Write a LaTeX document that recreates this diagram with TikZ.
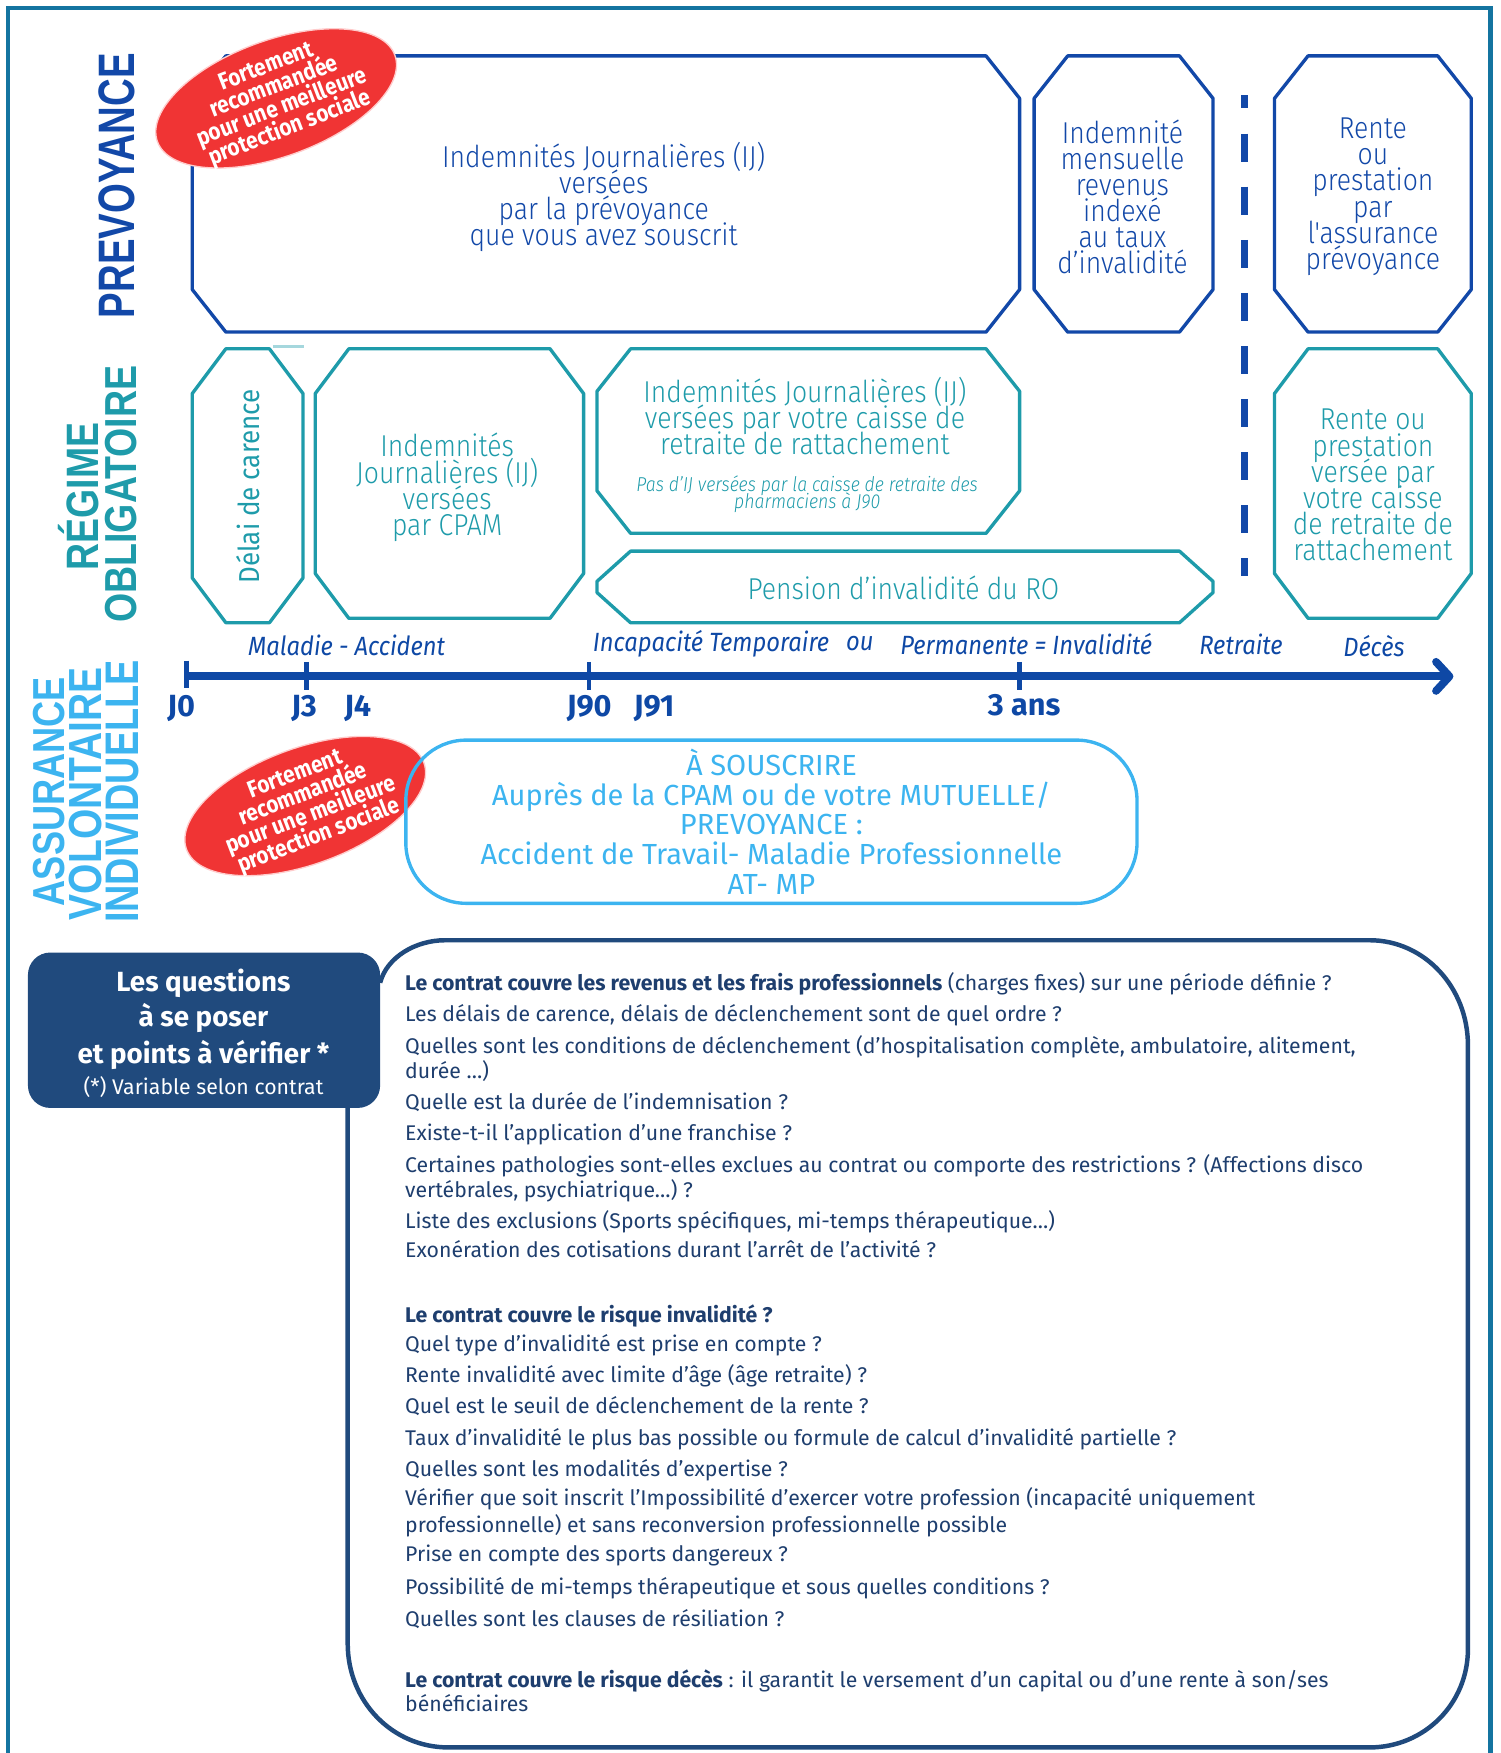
\documentclass[tikz,border=0pt]{standalone}
\usepackage{fontspec}
\setmainfont{Fira Sans}
\newfontfamily\condf[FakeStretch=0.88, UprightFont=* Light, ItalicFont=* Light Italic]{Fira Sans}
\newfontfamily\redf[FakeStretch=0.88]{Fira Sans}
\newfontfamily\semif[FakeStretch=0.9]{Fira Sans}
\newfontfamily\heavyf{Liberation Sans}
\usetikzlibrary{shapes.geometric,arrows.meta}
\definecolor{frameC}{RGB}{20,116,160}
\definecolor{prevC}{RGB}{18,72,168}
\definecolor{roC}{RGB}{30,155,170}
\definecolor{atC}{RGB}{60,180,240}
\definecolor{redC}{RGB}{240,52,52}
\definecolor{navyC}{RGB}{32,74,125}
\definecolor{qC}{RGB}{30,62,110}
\definecolor{lineC}{RGB}{14,72,165}
\newcommand\octa[7]{%
 \draw[#1] ({#2+#6},#3) -- ({#4-#6},#3) -- (#4,{#3+#7}) -- (#4,{#5-#7}) -- ({#4-#6},#5) -- ({#2+#6},#5) -- (#2,{#5-#7}) -- (#2,{#3+#7}) -- cycle;}
\tikzset{
 prevbox/.style={draw=prevC, line width=1.5pt, line join=round},
 robox/.style={draw=roC, line width=1.5pt, line join=round},
 prevtxt/.style={text=prevC, align=center, inner sep=0, font={\condf\fontsize{13.5}{11.7}\selectfont\lineskiplimit=-100pt}},
 rotxt/.style={text=roC, align=center, inner sep=0, font={\condf\fontsize{13.5}{11.7}\selectfont\lineskiplimit=-100pt}},
 heavy/.style={rotate=90, anchor=base, inner sep=0},
 redell/.style={ellipse, fill=redC, draw=red!20, line width=0.6pt, minimum width=113pt, minimum height=52pt, rotate=20, inner sep=0},
 redtxt/.style={rotate=21, text=white, align=center, inner sep=0, font={\redf\bfseries\fontsize{10.6}{9.8}\selectfont\lineskiplimit=-100pt}},
 jlab/.style={text=lineC, inner sep=0, font=\bfseries\fontsize{13.7}{15}\selectfont},
 itlab/.style={text=lineC, inner sep=0, font=\semif\itshape\fontsize{11.8}{13}\selectfont},
 tick/.style={draw=lineC, line width=2pt},
 qline/.style={anchor=base west, inner sep=0, text=qC, font=\fontsize{9.5}{11}\selectfont},
 qhead/.style={text=white, inner sep=0, anchor=base, font=\bfseries\fontsize{12.4}{14}\selectfont},
}
\begin{document}
\begin{tikzpicture}[x=0.5pt,y=-0.5pt]
\useasboundingbox (0,0) rectangle (1342,1568);
% frame
\draw[frameC, line width=2pt] (7,1600) -- (7,7) -- (1333,7) -- (1333,1600);

% side labels
\node[heavy, text=prevC] (lprev) at (120,166) {\heavyf\bfseries\resizebox{118.5pt}{16pt}{PREVOYANCE}};
\node[heavy, text=roC] (lregime) at (88,444) {\heavyf\bfseries\resizebox{66pt}{18pt}{RÉGIME}};
\node[heavy, text=roC] (loblig) at (122,442) {\heavyf\bfseries\resizebox{115pt}{14pt}{OBLIGATOIRE}};
\node[heavy, text=atC] (lassur) at (58,708) {\heavyf\bfseries\resizebox{102.5pt}{14pt}{ASSURANCE}};
\node[heavy, text=atC] (lvolon) at (91,710) {\heavyf\bfseries\resizebox{113pt}{14.5pt}{VOLONTAIRE}};
\node[heavy, text=atC] (lindiv) at (124,708) {\heavyf\bfseries\resizebox{117.5pt}{14.5pt}{INDIVIDUELLE}};

% prevoyance boxes
\octa{prevbox}{172}{50}{912}{297}{30}{38}
\octa{prevbox}{925}{50}{1085}{297}{30}{38}
\octa{prevbox}{1140}{50}{1316}{297}{30}{38}
\node[prevtxt] (ijprev) at (540,176) {Indemnités Journalières (IJ)\\versées\\par la prévoyance\\que vous avez souscrit};
\node[prevtxt] (mens) at (1004,176) {Indemnité\\mensuelle\\revenus\\indexé\\au taux\\d’invalidité};
\node[prevtxt] (renteprev) at (1228,176) {Rente\\ou\\prestation\\par\\l'assurance\\prévoyance};

% dashed retirement line
\draw[prevC, line width=3pt, dash pattern=on 12.5pt off 11.25pt, dash phase=6.5pt] (1113,85) -- (1113,515);

% regime obligatoire boxes
\octa{robox}{172}{312}{271}{557}{30}{40}
\draw[roC!40, line width=1pt] (244,310) -- (272,310);
\octa{robox}{282}{312}{522}{553}{30}{40}
\octa{robox}{534}{312}{912}{477}{30}{38}
\octa{robox}{534}{493}{1085}{557}{30}{27}
\octa{robox}{1140}{312}{1316}{553}{30}{40}
\node[rotate=90, text=roC, inner sep=0, font=\semif\fontsize{12.9}{14}\selectfont] (delai) at (222,435) {Délai de carence};
\node[rotxt] (ijcpam) at (400,436) {Indemnités\\Journalières (IJ)\\versées\\par CPAM};
\node[rotxt] (ijcaisse) at (720,372) {Indemnités Journalières (IJ)\\versées par votre caisse de\\retraite de rattachement};
\node[text=roC, align=center, inner sep=0, font={\condf\itshape\fontsize{9}{8}\selectfont\lineskiplimit=-100pt}] (pasij) at (722,442) {Pas d’IJ versées par la caisse de retraite des\\pharmaciens à J90};
\node[rotxt] (pension) at (808,526) {Pension d’invalidité du RO};
\node[rotxt] (rentero) at (1228,434) {Rente ou\\prestation\\versée par\\votre caisse\\de retraite de\\rattachement};

% red badges
\node[redell] (red1) at (247,88) {};
\node[redtxt] (red1t) at (249,88) {Fortement\\recommandée\\pour une meilleure\\protection sociale};
\node[redell] (red2) at (273,721) {};
\node[redtxt] (red2t) at (275,721) {Fortement\\recommandée\\pour une meilleure\\protection sociale};

% timeline
\coordinate (tstart) at (167,605);
\coordinate (tend) at (1300,605);
\draw[lineC, line width=3.5pt, -{Straight Barb[length=6pt,width=13pt,round]}] (tstart) -- (tend);
\coordinate (k0a) at (167,591); \coordinate (k0b) at (167,615);
\coordinate (k3a) at (274,592); \coordinate (k3b) at (274,617);
\coordinate (k90a) at (527,592); \coordinate (k90b) at (527,617);
\coordinate (k3ya) at (912,592); \coordinate (k3yb) at (912,617);
\draw[tick] (k0a) -- (k0b);
\draw[tick] (k3a) -- (k3b);
\draw[tick] (k90a) -- (k90b);
\draw[tick] (k3ya) -- (k3yb);
\node[jlab] (j0) at (162,634) {J0};
\node[jlab] (j3) at (272,634) {J3};
\node[jlab] (j4) at (320,634) {J4};
\node[jlab] (j90) at (527,634) {J90};
\node[jlab] (j91) at (585,634) {J91};
\node[jlab] (ans3) at (916,631) {3 ans};
\node[itlab] (malacc) at (310,577) {Maladie - Accident};
\node[itlab] (inctemp) at (636,576) {Incapacité Temporaire};
\node[itlab] (ou) at (769,576) {ou};
\node[itlab] (perm) at (918,576) {Permanente = Invalidité};
\node[itlab] (retr) at (1110,576) {Retraite};
\node[itlab] (deces) at (1229,578) {Décès};

% AT-MP box
\node[draw=atC, line width=1.5pt, rounded corners=27pt, minimum width=327pt, minimum height=73pt, inner sep=0, text=atC, align=center, font=\fontsize{13}{13.25}\selectfont] (atmp) at (690,735) {À SOUSCRIRE\\Auprès de la CPAM ou de votre MUTUELLE/\\PREVOYANCE :\\Accident de Travail- Maladie Professionnelle\\AT- MP};

% questions panel
\draw[navyC, line width=2pt] (311,991) -- (311,1470) .. controls (311,1522) and (351,1563) .. (401,1563) -- (1225,1563) .. controls (1274,1563) and (1313,1524) .. (1313,1475) -- (1313,935) .. controls (1313,883) and (1274,841) .. (1225,841) -- (398,841) .. controls (372,841) and (346,856) .. (340,879);
\node[fill=navyC, rounded corners=10pt, minimum width=157.5pt, minimum height=69.5pt, inner sep=0] (qbox) at (182.5,921.5) {};
\node[qhead] (qh1) at (182,887) {Les questions};
\node[qhead] (qh2) at (182,918) {à se poser};
\node[qhead] (qh3) at (182,951) {et points à vérifier *};
\node[text=white, inner sep=0, anchor=base, font=\fontsize{9.5}{11}\selectfont] (qh4) at (182,979) {(*) Variable selon contrat};

\node[qline] (q1) at (362,886) {\textbf{Le contrat couvre les revenus et les frais professionnels} (charges fixes) sur une période définie ?};
\node[qline] (q2) at (362,914) {Les délais de carence, délais de déclenchement sont de quel ordre ?};
\node[qline] (q3) at (362,942) {Quelles sont les conditions de déclenchement (d’hospitalisation complète, ambulatoire, alitement,};
\node[qline] (q4) at (362,965) {durée …)};
\node[qline] (q5) at (362,992) {Quelle est la durée de l’indemnisation ?};
\node[qline] (q6) at (362,1020) {Existe-t-il l’application d’une franchise ?};
\node[qline] (q7) at (362,1049) {Certaines pathologies sont-elles exclues au contrat ou comporte des restrictions ? (Affections disco};
\node[qline] (q8) at (362,1071) {vertébrales, psychiatrique…) ?};
\node[qline] (q9) at (362,1099) {Liste des exclusions (Sports spécifiques, mi-temps thérapeutique…)};
\node[qline] (q10) at (362,1125) {Exonération des cotisations durant l’arrêt de l’activité ?};
\node[qline] (q11) at (362,1183) {\textbf{Le contrat couvre le risque invalidité ?}};
\node[qline] (q12) at (362,1209) {Quel type d’invalidité est prise en compte ?};
\node[qline] (q13) at (362,1237) {Rente invalidité avec limite d’âge (âge retraite) ?};
\node[qline] (q14) at (362,1264) {Quel est le seuil de déclenchement de la rente ?};
\node[qline] (q15) at (362,1293) {Taux d’invalidité le plus bas possible ou formule de calcul d’invalidité partielle ?};
\node[qline] (q16) at (362,1321) {Quelles sont les modalités d’expertise ?};
\node[qline] (q17) at (362,1347) {Vérifier que soit inscrit l’Impossibilité d’exercer votre profession (incapacité uniquement};
\node[qline] (q18) at (362,1371) {professionnelle) et sans reconversion professionnelle possible};
\node[qline] (q19) at (362,1397) {Prise en compte des sports dangereux ?};
\node[qline] (q20) at (362,1426) {Possibilité de mi-temps thérapeutique et sous quelles conditions ?};
\node[qline] (q21) at (362,1455) {Quelles sont les clauses de résiliation ?};
\node[qline] (q22) at (362,1509) {\textbf{Le contrat couvre le risque décès} : il garantit le versement d’un capital ou d’une rente à son/ses};
\node[qline] (q23) at (362,1531) {bénéficiaires};
\end{tikzpicture}
\end{document}
